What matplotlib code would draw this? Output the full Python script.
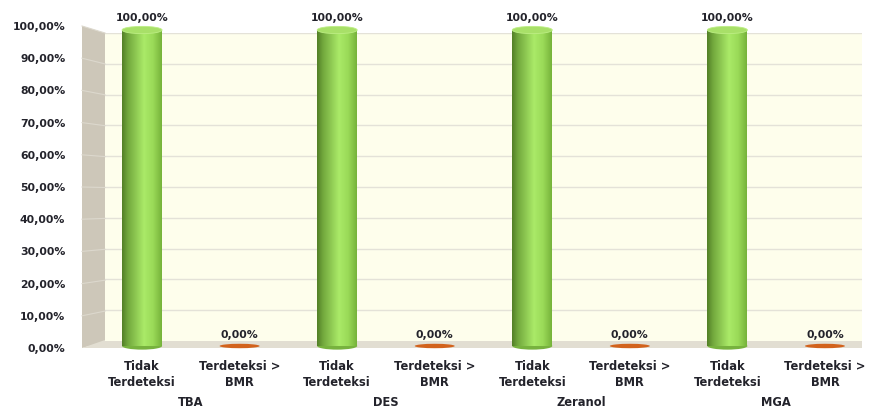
import numpy as np
import matplotlib
matplotlib.use("Agg")
import matplotlib.pyplot as plt
from matplotlib.patches import Polygon, Ellipse
from matplotlib.colors import LinearSegmentedColormap

# ---- data ----
groups = ["TBA", "DES", "Zeranol", "MGA"]
categories = ["Tidak\nTerdeteksi", "Terdeteksi >\nBMR"]
tidak_terdeteksi = [100.0, 100.0, 100.0, 100.0]
terdeteksi_bmr = [0.0, 0.0, 0.0, 0.0]
y_ticks = [0, 10, 20, 30, 40, 50, 60, 70, 80, 90, 100]

W, H = 871, 411
fig = plt.figure(figsize=(W / 100, H / 100), dpi=100)
fig.patch.set_facecolor("white")


def rect(l, r, top, bot):
    return [l / W, (H - bot) / H, (r - l) / W, (bot - top) / H]


def fpt(x, y):
    return (x / W, (H - y) / H)


TXT = "#23232B"
FONT = "DejaVu Sans"

# ---- 3D walls ----
# side wall
side = Polygon([fpt(82, 26), fpt(105, 33), fpt(105, 342), fpt(82, 348)],
               closed=True, transform=fig.transFigure, facecolor="#CDC7B9",
               edgecolor="none", zorder=0)
fig.patches.append(side)
for v in y_ticks[1:]:
    yf = 348 - 3.22 * v
    yb = 342 - 3.09 * v
    fig.lines.append(plt.Line2D([82 / W, 105 / W], [(H - yf) / H, (H - yb) / H],
                                transform=fig.transFigure, color="#DCD8CD",
                                lw=0.8, zorder=0.5))
# floor
floor = Polygon([fpt(82, 348), fpt(105, 340), fpt(862, 340), fpt(862, 348)],
                closed=True, transform=fig.transFigure, facecolor="#E2DED2",
                edgecolor="none", zorder=0)
fig.patches.append(floor)

# back wall with gridlines
ax_back = fig.add_axes(rect(105, 862, 33, 341), zorder=0.2)
ax_back.set_facecolor("#FEFEEC")
ax_back.set_ylim(0, 100)
ax_back.set_xlim(0, 1)
for v in y_ticks[1:]:
    ax_back.axhline(v, color="#E4E2D8", lw=1.0)
ax_back.set_xticks([])
ax_back.set_yticks([])
for s in ax_back.spines.values():
    s.set_visible(False)

# ---- front value axis labels ----
ax_t = fig.add_axes(rect(82, 83, 26, 348), zorder=0.3)
ax_t.set_ylim(0, 100)
ax_t.set_yticks(y_ticks)
ax_t.set_yticklabels([f"{v:.2f}".replace(".", ",") + "%" for v in y_ticks],
                     fontsize=7.8, fontweight="bold", color=TXT, family=FONT)
ax_t.tick_params(axis="y", length=0, pad=12)
ax_t.set_xticks([])
ax_t.patch.set_alpha(0)
for s in ax_t.spines.values():
    s.set_visible(False)

# ---- cylinders ----
ax = fig.add_axes(rect(105, 862, 30, 346), zorder=1)
ax.patch.set_alpha(0)
for s in ax.spines.values():
    s.set_visible(False)
ax.set_ylim(0, 100)
ax.set_xlim(-0.38, 7.38)

n = len(groups)
x_green = np.arange(n) * 2
x_orange = np.arange(n) * 2 + 1
bw = 0.41
ell_h = 2.3

green_cmap = LinearSegmentedColormap.from_list(
    "cyl", [(0, "#527F26"), (0.15, "#72A83D"), (0.55, "#AAEA68"),
            (0.78, "#9ADA58"), (1, "#76B23A")])
grad = np.linspace(0, 1, 256).reshape(1, -1)

bars = ax.bar(x_green, tidak_terdeteksi, width=bw, color="#8CCB4B",
              edgecolor="none", zorder=2)
for b, xv, v in zip(bars, x_green, tidak_terdeteksi):
    # bottom cap
    ax.add_patch(Ellipse((xv, 0), bw, ell_h, facecolor="#77B23E",
                         edgecolor="none", zorder=1.9, clip_on=False))
    im = ax.imshow(grad, cmap=green_cmap, aspect="auto",
                   extent=(xv - bw / 2, xv + bw / 2, 0, v), zorder=2.1)
    im.set_clip_path(b)
    # top cap
    ax.add_patch(Ellipse((xv, v), bw, ell_h, facecolor="#A8E068",
                         edgecolor="#BDEE84", lw=0.6, zorder=2.3, clip_on=False))
    ax.annotate(f"{v:.2f}".replace(".", ",") + "%", (xv, v),
                xytext=(0, 5), textcoords="offset points", ha="center",
                va="bottom", fontsize=7.8, fontweight="bold", color=TXT,
                family=FONT, annotation_clip=False)

ax.bar(x_orange, terdeteksi_bmr, width=bw, color="#D2621C", edgecolor="none",
       zorder=2)
for xv, v in zip(x_orange, terdeteksi_bmr):
    ax.add_patch(Ellipse((xv, v), bw, 1.4, facecolor="#D2621C",
                         edgecolor="none", zorder=2.3, clip_on=False))
    ax.annotate(f"{v:.2f}".replace(".", ",") + "%", (xv, v),
                xytext=(0, 4.5), textcoords="offset points", ha="center",
                va="bottom", fontsize=7.8, fontweight="bold", color=TXT,
                family=FONT, annotation_clip=False)

# ---- category axis ----
xs = np.arange(2 * n)
ax.set_xticks(xs)
ax.set_xticklabels(categories * n, fontsize=8.3, fontweight="bold", color=TXT,
                   family=FONT, linespacing=1.3)
ax.tick_params(axis="x", length=0, pad=10)
ax.set_yticks([])
for i, g in enumerate(groups):
    ax.annotate(g, (2 * i + 0.5, 0), xycoords=("data", "axes fraction"),
                xytext=(0, -41), textcoords="offset points", ha="center",
                va="center", fontsize=8.3, fontweight="bold", color=TXT,
                family=FONT, annotation_clip=False)

fig.savefig("out.png", dpi=100)
